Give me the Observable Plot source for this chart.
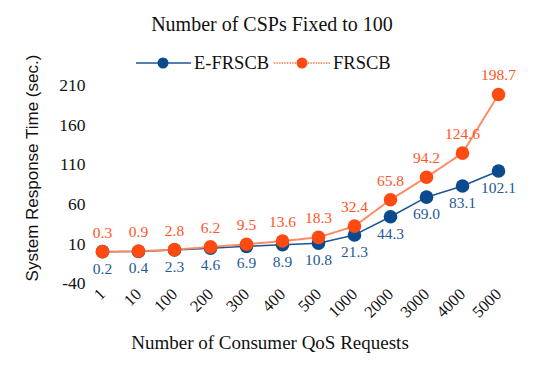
<!DOCTYPE html>
<html>
<head>
<meta charset="utf-8">
<script src="https://cdn.jsdelivr.net/npm/d3@7"></script>
<script src="https://cdn.jsdelivr.net/npm/@observablehq/plot@0.6"></script>
<style>
  html, body { margin: 0; padding: 0; background: #fff; }
  #chart { width: 543px; height: 385px; position: relative; }
</style>
</head>
<body>
<div id="chart"></div>
<script>
const categories = ["1","10","100","200","300","400","500","1000","2000","3000","4000","5000"];
const efrscb = [0.2,0.4,2.3,4.6,6.9,8.9,10.8,21.3,44.3,69.0,83.1,102.1];
const frscb = [0.3,0.9,2.8,6.2,9.5,13.6,18.3,32.4,65.8,94.2,124.6,198.7];
const yTicks = [-40,10,60,110,160,210];
const seriesNames = ["E-FRSCB","FRSCB"];

const blueDot = "#0B4A8C", blueText = "#1F5A97", blueLine = "#1B5497";
const orangeDot = "#FF4A12", orangeText = "#FF5526", orangeLine = "#FF8A64";
const serif = "'Liberation Serif', 'Times New Roman', serif";

const A = categories.map((c,i) => ({cat: c, v: efrscb[i]}));
const B = categories.map((c,i) => ({cat: c, v: frscb[i]}));

const chart = Plot.plot({
  width: 543, height: 385,
  marginLeft: 97, marginRight: 41, marginTop: 85, marginBottom: 102,
  style: {fontFamily: serif, background: "#fff", color: "#111"},
  x: {type: "point", domain: categories, padding: 0, label: null},
  y: {domain: [-40, 210], ticks: yTicks, label: null},
  marks: [
    Plot.gridY(yTicks, {stroke: "#dedede", strokeOpacity: 1, strokeWidth: 1, x1: 95, x2: 503}),
    Plot.axisY(yTicks, {tickSize: 0, tickPadding: 12, fontSize: 17.5, label: null, fill: "#111", tickFormat: d => String(d)}),
    Plot.axisX({tickSize: 0, tickPadding: 8, tickRotate: -45, fontSize: 16.5, label: null, fill: "#111"}),
    Plot.line(A, {x: "cat", y: "v", stroke: blueLine, strokeWidth: 1.5}),
    Plot.line(B, {x: "cat", y: "v", stroke: orangeLine, strokeWidth: 2, strokeDasharray: "1.3,1.3"}),
    Plot.dot(A, {x: "cat", y: "v", r: 6.8, fill: blueDot}),
    Plot.dot(B, {x: "cat", y: "v", r: 6.8, fill: orangeDot}),
    Plot.text(A, {x: "cat", y: "v", text: d => d.v.toFixed(1), dy: 17, fill: blueText, fontSize: 15.5}),
    Plot.text(B, {x: "cat", y: "v", text: d => d.v.toFixed(1), dy: -19, fill: orangeText, fontSize: 15.5})
  ]
});
document.getElementById("chart").appendChild(chart);

const svg = d3.select(chart);
// Title
svg.append("text").attr("x", 272).attr("y", 31).attr("text-anchor", "middle")
  .style("font-family", serif).style("font-size", "20px").attr("fill", "#111")
  .text("Number of CSPs Fixed to 100");
// Legend
const lg = svg.append("g");
lg.append("line").attr("x1", 136).attr("x2", 191).attr("y1", 63).attr("y2", 63)
  .attr("stroke", blueLine).attr("stroke-width", 1.5);
lg.append("circle").attr("cx", 163).attr("cy", 63).attr("r", 5.5).attr("fill", blueDot);
lg.append("text").attr("x", 194).attr("y", 69).attr("text-anchor", "start")
  .style("font-family", serif).style("font-size", "18.5px")
  .attr("fill", "#111").text(seriesNames[0]);
lg.append("line").attr("x1", 274).attr("x2", 330).attr("y1", 63).attr("y2", 63)
  .attr("stroke", orangeLine).attr("stroke-width", 2).attr("stroke-dasharray", "1.3,1.3");
lg.append("circle").attr("cx", 302).attr("cy", 63).attr("r", 5.5).attr("fill", orangeDot);
lg.append("text").attr("x", 333).attr("y", 69).attr("text-anchor", "start")
  .style("font-family", serif).style("font-size", "18.5px")
  .attr("fill", "#111").text(seriesNames[1]);
// Axis titles
svg.append("text").attr("x", 270).attr("y", 349).attr("text-anchor", "middle")
  .style("font-family", serif).style("font-size", "19px").attr("fill", "#111")
  .text("Number of Consumer QoS Requests");
svg.append("text").attr("transform", "translate(38,168) rotate(-90)").attr("text-anchor", "middle")
  .style("font-family", "'Liberation Sans', Arial, sans-serif").style("font-size", "17px").attr("fill", "#111")
  .text("System Response Time (sec.)");
</script>
</body>
</html>
